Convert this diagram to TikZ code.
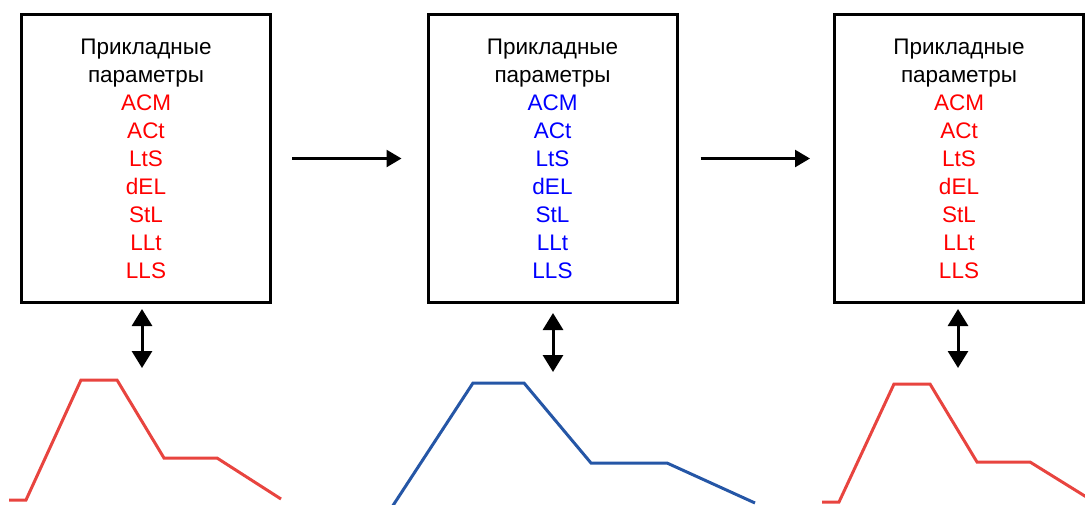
\documentclass[tikz,border=0pt]{standalone}
\usepackage{fontspec}
\setmainfont{Liberation Sans}
\usetikzlibrary{arrows.meta,positioning}
\definecolor{parred}{HTML}{FF0000}
\definecolor{parblue}{HTML}{0000FF}
\definecolor{wavered}{HTML}{E8443F}
\definecolor{waveblue}{HTML}{2556A6}
\newcommand{\paramtext}[1]{Прикладные\\параметры\\\textcolor{#1}{ACM}\\\textcolor{#1}{ACt}\\\textcolor{#1}{LtS}\\\textcolor{#1}{dEL}\\\textcolor{#1}{StL}\\\textcolor{#1}{LLt}\\\textcolor{#1}{LLS}}
\tikzset{
  parambox/.style={draw, line width=3pt, minimum width=249pt, minimum height=288pt,
    inner sep=0pt, align=center, font=\fontsize{22.5}{28}\selectfont},
  steparrow/.style={-{Triangle[length=15pt,width=17pt]}, line width=2.5pt},
  linkarrow/.style={{Triangle[length=17pt,width=20pt]}-{Triangle[length=17pt,width=20pt]}, line width=3pt},
  wave/.style={line width=3pt, line join=miter}
}

\begin{document}
\begin{tikzpicture}[x=1pt, y=-1pt, node distance=154.5pt]
    \useasboundingbox (0,0) rectangle (1085,504);
    \node[parambox] (box1) at (146,158.5) {\paramtext{parred}};
    \node[parambox, right=of box1] (box2) {\paramtext{parblue}};
    \node[parambox, right=of box2] (box3) {\paramtext{parred}};
    \draw[steparrow, shorten <=20pt, shorten >=25pt] (box1) -- (box2);
    \draw[steparrow, shorten <=22pt, shorten >=23pt] (box2) -- (box3);
    % pulse shapes under the boxes
    \draw[wave, wavered] (9,500) -- (26,500) -- (81,380) -- (117,380) -- (164,458) -- (217,458) -- (281,499);
    \draw[wave, waveblue] (392,507) -- (473,383) -- (524,383) -- (591,463) -- (667,463) -- (755,503);
    \draw[wave, wavered] (822,502) -- (839,502) -- (894,384) -- (930,384) -- (977,462) -- (1030,462) -- (1088,498);
    \coordinate (tip1) at (142,368);
    \coordinate (tip2) at (553,372);
    \coordinate (tip3) at (958,368);
    \draw[linkarrow, shorten <=5pt] (box1.south -| tip1) -- (tip1);
    \draw[linkarrow, shorten <=9pt] (box2.south -| tip2) -- (tip2);
    \draw[linkarrow, shorten <=5pt] (box3.south -| tip3) -- (tip3);
  \end{tikzpicture}
\end{document}
